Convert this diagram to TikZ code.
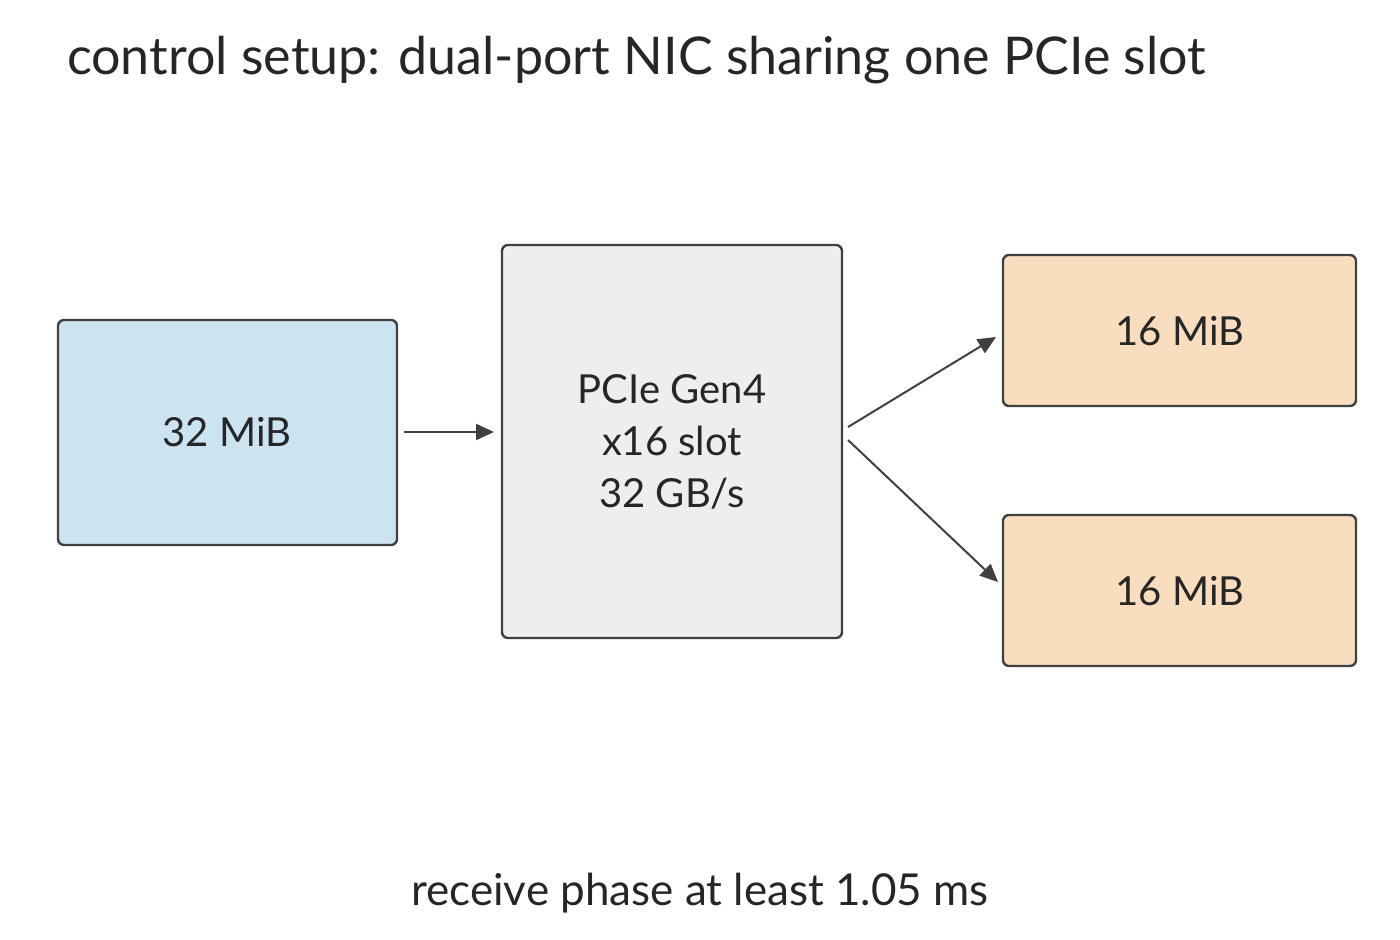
\documentclass[tikz,border=0pt]{standalone}
\usepackage{fontspec}
\setmainfont{Lato}
\usetikzlibrary{arrows.meta}
\begin{document}
\begin{tikzpicture}[x=0.5pt,y=-0.5pt,
 box/.style={draw=black!75,line width=1.2pt,rounded corners=3pt},
 lab/.style={font=\fontsize{20}{26}\selectfont,text=black!85,align=center},
 arr/.style={draw=black!75,line width=1pt,-{Triangle[length=9pt,width=8pt]}}]
\useasboundingbox (0,0) rectangle (1400,940);
\node[anchor=base west,font=\fontsize{26}{30}\selectfont,text=black!85] (title) at (60,75) {control setup: dual-port NIC sharing one PCIe slot};
\draw[box,fill={rgb,255:red,204;green,227;blue,242}] (58,320) rectangle (397,545);
\node[lab] (a) at (227,432) {32 MiB};
\draw[box,fill={rgb,255:red,238;green,238;blue,238}] (502,245) rectangle (842,638);
\node[lab] (b) at (672,442) {PCIe Gen4\\x16 slot\\32 GB/s};
\draw[box,fill={rgb,255:red,248;green,221;blue,191}] (1003,255) rectangle (1356,406);
\node[lab] (c) at (1180,331) {16 MiB};
\draw[box,fill={rgb,255:red,248;green,221;blue,191}] (1003,515) rectangle (1356,666);
\node[lab] (d) at (1180,591) {16 MiB};
\coordinate (a1) at (404,432); \coordinate (b1) at (494,432);
\coordinate (b2) at (848,427); \coordinate (c1) at (996,337);
\coordinate (b3) at (848,440); \coordinate (d1) at (998,582);
\draw[arr] (a1) -- (b1);
\draw[arr] (b2) -- (c1);
\draw[arr] (b3) -- (d1);
\node[font=\fontsize{22}{26}\selectfont,text=black!85] (foot) at (700,893) {receive phase at least 1.05 ms};
\end{tikzpicture}
\end{document}
